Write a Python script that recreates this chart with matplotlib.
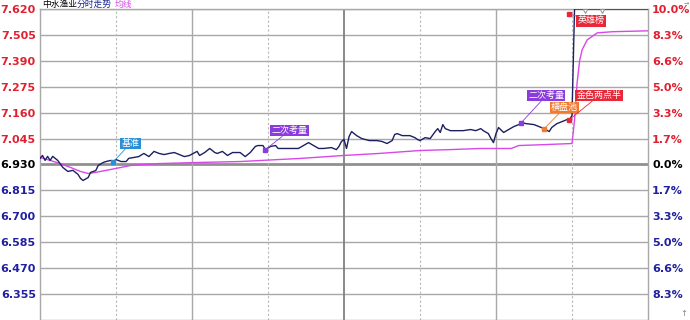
import matplotlib
matplotlib.use('Agg')
import matplotlib.pyplot as plt

plt.rcParams['font.family'] = ['Noto Sans CJK SC', 'DejaVu Sans']

# -----------------------
# 数据
# -----------------------
PRE_CLOSE = 6.930

price_min = [0, 1, 2, 3, 4, 5, 7, 9, 11, 13, 15, 16, 17, 19, 20, 22, 23, 25, 26, 28,
             29, 30, 32, 34, 35, 37, 39, 41, 43, 45, 47, 49, 51, 53, 55, 57, 59, 62, 63, 65,
             67, 69, 70, 72, 74, 76, 79, 81, 83, 85, 86, 88, 89, 91, 93, 94, 97, 99, 102, 106,
             108, 110, 112, 115, 117, 118, 119, 120, 121, 122, 123, 125, 127, 130, 133, 135, 137, 139, 140, 141,
             143, 146, 148, 149, 150, 152, 154, 156, 157, 158, 159, 160, 162, 165, 167, 170, 172, 174, 175, 177,
             178, 179, 180, 181, 183, 185, 187, 189, 190, 192, 195, 197, 199, 201, 202, 204, 206, 208, 209, 210,
             211, 240]
price_val = [6.957, 6.970, 6.948, 6.966, 6.948, 6.966, 6.948, 6.917, 6.899, 6.904, 6.886, 6.868, 6.859, 6.872, 6.895, 6.903, 6.926, 6.939, 6.943, 6.948,
             6.943, 6.952, 6.943, 6.943, 6.957, 6.961, 6.965, 6.979, 6.965, 6.988, 6.979, 6.974, 6.979, 6.983, 6.974, 6.965, 6.970, 6.988, 6.970, 6.983,
             7.001, 6.983, 6.979, 6.988, 6.970, 6.983, 6.983, 6.965, 6.983, 7.010, 7.014, 7.014, 6.996, 7.010, 7.014, 7.001, 7.001, 7.001, 7.001, 7.027,
             7.014, 7.001, 7.001, 7.005, 6.996, 7.010, 7.032, 7.041, 7.001, 7.054, 7.076, 7.058, 7.045, 7.036, 7.036, 7.032, 7.023, 7.036, 7.063, 7.067,
             7.058, 7.058, 7.049, 7.041, 7.036, 7.049, 7.045, 7.076, 7.089, 7.072, 7.107, 7.089, 7.080, 7.080, 7.080, 7.085, 7.080, 7.089, 7.080, 7.067,
             7.045, 7.027, 7.067, 7.094, 7.072, 7.085, 7.098, 7.107, 7.116, 7.111, 7.107, 7.098, 7.089, 7.076, 7.094, 7.111, 7.120, 7.129, 7.129, 7.147,
             7.620, 7.620]

avg_min = [0, 4, 8, 12, 16, 19, 22, 28, 36, 47, 63, 79, 103, 120, 134, 150, 162, 174, 186, 189,
           199, 210, 211, 212, 213, 214, 216, 220, 226, 240]
avg_val = [6.961, 6.948, 6.934, 6.917, 6.899, 6.890, 6.895, 6.908, 6.926, 6.934, 6.939, 6.943, 6.957, 6.970, 6.979, 6.992, 6.996, 7.001, 7.001, 7.014,
           7.018, 7.023, 7.125, 7.290, 7.390, 7.439, 7.483, 7.514, 7.519, 7.523]

left_ticks = [7.620, 7.505, 7.390, 7.275, 7.160, 7.045, 6.930, 6.815, 6.700, 6.585, 6.470, 6.355]
right_labels = ['10.0%', '8.3%', '6.6%', '5.0%', '3.3%', '1.7%', '0.0%',
                '1.7%', '3.3%', '5.0%', '6.6%', '8.3%']

# 信号标注
sig_labels = ['基准', '二次考量', '二次考量', '横盘池', '金色两点半', '英雄榜']
sig_min = [29, 89, 190, 199, 209, 209]
sig_price = [6.943, 6.996, 7.116, 7.089, 7.129, 7.598]
sig_colors = ['#2a8fd4', '#8a3cdc', '#8a3cdc', '#f07a30', '#e82838', '#e82838']
sig_offsets = [(8, 18), (6, 19), (7, 27), (7, 21), (7, 24), (8, -7)]

RED = '#e02030'
BLUE = '#2020a0'
GRID = '#a8a8a8'


def color_labels(labels, values):
    for lbl, v in zip(labels, values):
        lbl.set_fontweight('bold')
        lbl.set_fontsize(8)
        lbl.set_family('DejaVu Sans')
        if abs(v - PRE_CLOSE) < 1e-6:
            lbl.set_color('black')
        elif v > PRE_CLOSE:
            lbl.set_color(RED)
        else:
            lbl.set_color(BLUE)


# -----------------------
# 绘图
# -----------------------
fig = plt.figure(figsize=(6.9, 3.2), dpi=100)
ax = fig.add_axes([40 / 690, 0.0, 608 / 690, 1 - 8.5 / 320])

ymin = PRE_CLOSE - 0.690
ymax = 7.622
ax.set_xlim(0, 240)
ax.set_ylim(ymin, ymax)

# 横向网格
for v in left_ticks:
    if abs(v - PRE_CLOSE) < 1e-6:
        ax.axhline(v, color='#909090', lw=2.0, zorder=1)
    else:
        ax.axhline(v, color=GRID, lw=1.0, zorder=1)

# 纵向网格
for m in [30, 60, 90, 120, 150, 180, 210]:
    if m == 120:
        ax.axvline(m, color='#808080', lw=1.3, zorder=1)
    elif m % 60 == 0:
        ax.axvline(m, color=GRID, lw=1.0, zorder=1)
    else:
        ax.axvline(m, color='#b8b8b8', lw=0.8, ls=(0, (2, 2)), zorder=1)

for s in ax.spines.values():
    s.set_color(GRID)
    s.set_linewidth(1.0)

ax.plot(avg_min, avg_val, color='#d848e8', lw=1.0, zorder=3)
ax.plot(price_min, price_val, color='#1c2060', lw=1.0, zorder=4)

# 涨停位置的小三角
ax.plot([215, 222], [7.612, 7.612], ls='none', marker='v', ms=3,
        mfc='white', mec='#909090', mew=0.7, zorder=5, clip_on=False)

# 左侧价格刻度
ax.set_xticks([])
ax.set_yticks(left_ticks)
ax.set_yticklabels([f'{v:.3f}' for v in left_ticks])
ax.tick_params(axis='y', length=0, pad=3)
color_labels(ax.get_yticklabels(), left_ticks)

# 右侧百分比刻度
ax2 = ax.twinx()
ax2.set_ylim(ymin, ymax)
ax2.set_yticks(left_ticks)
ax2.set_yticklabels(right_labels)
ax2.tick_params(axis='y', length=0, pad=3)
for s in ax2.spines.values():
    s.set_visible(False)
color_labels(ax2.get_yticklabels(), left_ticks)

# 信号标注
for lab, m, p, c, off in zip(sig_labels, sig_min, sig_price, sig_colors, sig_offsets):
    ax.plot(m, p, marker='s', ms=3, color=c, zorder=6)
    ax.annotate(lab, xy=(m, p), xytext=off, textcoords='offset pixels',
                fontsize=6.5, color='white', ha='left', va='center',
                bbox=dict(boxstyle='square,pad=0.12', fc=c, ec='none'),
                arrowprops=dict(arrowstyle='-', color=c, lw=0.6, shrinkA=0, shrinkB=0),
                zorder=7)

# 标题
ty = 1 - 4.5 / 320
fig.text(42 / 690, ty, '中水渔业', fontsize=6.3, color='black', va='center', ha='left')
fig.text(77 / 690, ty, '分时走势', fontsize=6.3, color='#1c2a90', va='center', ha='left')
fig.text(115 / 690, ty, '均线', fontsize=6.3, color='#d848e8', va='center', ha='left')

# 右侧小按钮
fig.text(686 / 690, 1 - 2.5 / 320, '→', fontsize=4.5, color='#808080', ha='center', va='center',
         family='DejaVu Sans')
fig.text(684 / 690, 1 - 313 / 320, '↑', fontsize=6, color='#808080', ha='center', va='center',
         family='DejaVu Sans')

fig.savefig('out.png', dpi=100)
plt.close(fig)
